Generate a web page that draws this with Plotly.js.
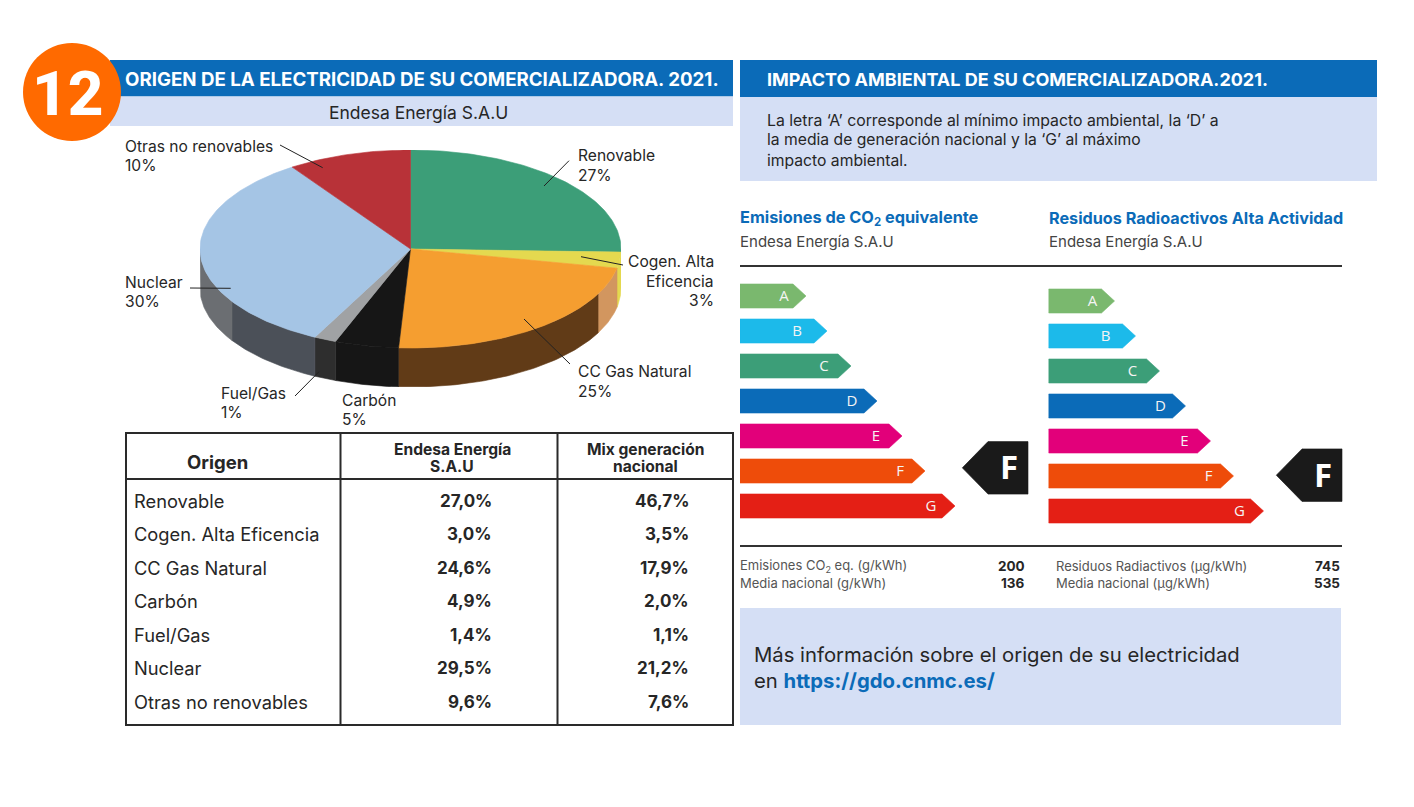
<!DOCTYPE html>
<html><head><meta charset="utf-8">
<script src="https://cdn.plot.ly/plotly-3.0.1.min.js"></script>
<style>html,body{margin:0;padding:0;background:#fff}#c{width:1414px;height:807px}</style>
</head><body><div id="c"></div>
<script>
// ---------- data ----------
const origen = ["Renovable","Cogen. Alta Eficencia","CC Gas Natural","Carbón","Fuel/Gas","Nuclear","Otras no renovables"];
const endesaPct = ["27,0%","3,0%","24,6%","4,9%","1,4%","29,5%","9,6%"];
const mixPct = ["46,7%","3,5%","17,9%","2,0%","1,1%","21,2%","7,6%"];
// slice shares as drawn in the perspective pie, clockwise from 12 o'clock
const sliceShares = [25.5,2.6,22.8,4.9,1.7,33.0,9.5];
const sliceColors = ["#3c9e78","#e4d94f","#f59e30","#161616","#a0a2a4","#a5c5e5","#b83238"];
const sideStops = [90,101.2,117,183.3,200.8,207,238,270];
const sideColors = ["#e4d94f","#d2965f","#613b17","#161616","#2e2e2e","#4b5058","#6b6e72"];
const ratings = ["A","B","C","D","E","F","G"];
const ratingLength = [66,87,111,137,162,185,215];
const ratingLetterAt = [44,57,84,112,136,160,191];
const ratingColors = ["#7ab86e","#1cbaea","#3c9e78","#0b6bb8","#e2007a","#ee4c0a","#e41f15"];

// ---------- page geometry ----------
const W=1414,H=807;
const px=x=>x/W, py=y=>1-y/H;
const FONT="Inter", BLUE="#0b6bb8", LIGHT="#d5dff5", INK="#262626";

// ---------- pie ----------
const depth=39/99, traces=[];
const arc=(a,b,yo)=>{const p=[];const n=Math.max(2,Math.ceil(Math.abs(b-a)));
  for(let i=0;i<=n;i++){const t=(a+(b-a)*i/n)*Math.PI/180;p.push([Math.sin(t),Math.cos(t)+yo]);}return p;};
const poly=(pts,color,xa,ya,name)=>({type:"scatter",mode:"lines",x:pts.map(p=>p[0]),y:pts.map(p=>p[1]),
  fill:"toself",fillcolor:color,line:{color:color,width:0.6},xaxis:xa,yaxis:ya,hoverinfo:"skip",showlegend:false,name:name||""});
sideColors.forEach((c,i)=>{
  const pts=arc(sideStops[i],sideStops[i+1],0).concat(arc(sideStops[i+1],sideStops[i],-depth));
  pts.push(pts[0]);traces.push(poly(pts,c,"x","y","side"));
});
let acc=0;
sliceShares.forEach((s,i)=>{
  const a=acc*3.6,b=(acc+s)*3.6;acc+=s;
  const pts=[[0,0]].concat(arc(a,b,0),[[0,0]]);
  traces.push(poly(pts,sliceColors[i],"x","y",origen[i]));
});

// ---------- rating arrows ----------
const head=13, half=0.343;
function addRatings(xa,ya,dx,dy){
  ratingLength.forEach((L,i)=>{
    const pts=[[0,i-half],[L-head,i-half],[L,i],[L-head,i+half],[0,i+half],[0,i-half]];
    traces.push(poly(pts,ratingColors[i],xa,ya,ratings[i]));
  });
  traces.push({type:"scatter",mode:"text",x:ratingLetterAt,y:ratings.map((r,i)=>i+0.03),text:ratings,
    textposition:"middle center",textfont:{family:"Open Sans",size:15,color:"#f4f4f4"},xaxis:xa,yaxis:ya,hoverinfo:"skip",showlegend:false});
  // black marker pointing at the rating F
  const m=[[222.3,4.91],[248,4.16],[288,4.16],[288,5.66],[248,5.66],[222.3,4.91]].map(p=>[p[0]+dx,p[1]+dy]);
  traces.push(poly(m,"#1a1a1a",xa,ya,"F"));
  traces.push({type:"scatter",mode:"text",x:[269+dx],y:[5.0+dy],text:["F"],textposition:"middle center",
    textfont:{family:"Open Sans",size:33,color:"#ffffff",weight:700},xaxis:xa,yaxis:ya,hoverinfo:"skip",showlegend:false});
}
addRatings("x2","y2",0,0);
addRatings("x3","y3",5.5,0.066);

// ---------- shapes ----------
const rect=(x0,y0,x1,y1,c)=>({type:"rect",xref:"paper",yref:"paper",x0:px(x0),x1:px(x1),y0:py(y0),y1:py(y1),fillcolor:c,line:{width:0},layer:"below"});
const seg=(x0,y0,x1,y1,c,w,layer)=>({type:"line",xref:"paper",yref:"paper",x0:px(x0),x1:px(x1),y0:py(y0),y1:py(y1),line:{color:c,width:w},layer:layer||"above"});
const shapes=[
  rect(110,60,733,96.5,BLUE), rect(110,96.5,733,126,LIGHT),
  rect(740,60,1377,97,BLUE), rect(740,97,1377,181,LIGHT),
  rect(740,608,1341,725,LIGHT),
  {type:"circle",xref:"paper",yref:"paper",x0:px(23),x1:px(121),y0:py(43),y1:py(141),fillcolor:"#ff6a00",line:{width:0},layer:"below"},
  seg(280,145,322.7,167.7,"#222",1), seg(569,160.7,544,186,"#222",1), seg(581,256.7,623,265,"#222",1),
  seg(190,288,230.7,288.3,"#222",1), seg(295,396,319,371.7,"#222",1), seg(524,319,570,364,"#222",1),
  seg(740,266,1342,266,"#333",2), seg(740,546,1342,546,"#333",2),
  {type:"rect",xref:"paper",yref:"paper",x0:px(126),x1:px(733),y0:py(433),y1:py(725),line:{color:"#2a2a2a",width:2},layer:"above"},
  seg(126,479,733,479,"#2a2a2a",2), seg(340.5,433,340.5,725,"#2a2a2a",2), seg(557.5,433,557.5,725,"#2a2a2a",2)
];

// ---------- text ----------
const ann=[];
function T(text,x,y,o){o=o||{};
  ann.push({text:text,xref:"paper",yref:"paper",x:px(x),y:py(y),xanchor:o.a||"left",yanchor:"middle",showarrow:false,
    align:o.a==="right"?"right":(o.a==="center"?"center":"left"),borderpad:0,
    font:{family:o.f||FONT,size:o.s||15.6,color:o.c||INK,weight:o.w||400}});
}
T("12",68,94,{a:"center",s:62,c:"#fff",w:800,f:"Roboto"});
T("ORIGEN DE LA ELECTRICIDAD DE SU COMERCIALIZADORA. 2021.",124,79.5,{s:18.7,c:"#fff",w:700});
T("Endesa Energía S.A.U",418,112,{a:"center",s:17.5});
T("IMPACTO AMBIENTAL DE SU COMERCIALIZADORA.2021.",766,79.5,{s:18,c:"#fff",w:700});
T("La letra ‘A’ corresponde al mínimo impacto ambiental, la ‘D’ a",766,120,{s:15.8});
T("la media de generación nacional y la ‘G’ al máximo",766,140,{s:15.7});
T("impacto ambiental.",766,160,{s:15.7});
// pie labels
const L=(a,b,x,y,dy,o)=>{T(a,x,y,o);T(b,x,y+(dy||19),o);};
L("Otras no renovables","10%",124,146);
L("Renovable","27%",577,156);
L("Nuclear","30%",124,282);
L("Fuel/Gas","1%",220,394);
L("Carbón","5%",341,400);
L("CC Gas Natural","25%",577,372);
T("Cogen. Alta",714.5,261,{a:"right"});T("Eficencia",714.5,281,{a:"right"});T("3%",714.5,300,{a:"right"});
// table
T("Origen",217.5,462,{a:"center",s:18.5,w:700});
T("Endesa Energía",452,449.5,{a:"center",s:15.6,w:700});T("S.A.U",452,466,{a:"center",s:15.6,w:700});
T("Mix generación",645.5,449.5,{a:"center",s:15.6,w:700});T("nacional",645.5,466,{a:"center",s:15.6,w:700});
const rowY=[500.5,533.5,567.5,600.5,634.5,667.5,701.5];
origen.forEach((o,i)=>{
  T(o,133,rowY[i],{s:18.3});
  T(endesaPct[i],493.5,rowY[i],{a:"right",s:17,w:700});
  T(mixPct[i],690,rowY[i],{a:"right",s:17,w:700});
});
// right column
T("Emisiones de CO<sub>2</sub> equivalente",739,218.5,{s:16.3,w:700,c:BLUE});
T("Endesa Energía S.A.U",739,241,{s:15,c:"#444"});
T("Residuos Radioactivos Alta Actividad",1048,218.5,{s:16.2,w:700,c:BLUE});
T("Endesa Energía S.A.U",1048,241,{s:15,c:"#444"});
T("Emisiones CO<sub>2</sub> eq. (g/kWh)",739,566,{s:13,c:"#555"});
T("Media nacional (g/kWh)",739,583,{s:13,c:"#555"});
T("200",1026,566,{a:"right",s:13.5,w:700});T("136",1025.5,583,{a:"right",s:13.5,w:700});
T("Residuos Radiactivos (µg/kWh)",1055,566,{s:13,c:"#555"});
T("Media nacional (µg/kWh)",1055,583,{s:13,c:"#555"});
T("745",1341,566,{a:"right",s:13.5,w:700});T("535",1341,583,{a:"right",s:13.5,w:700});
T("Más información sobre el origen de su electricidad",753,654,{s:20.3});
T("en <b style=\"color:#0b6bb8\">https://gdo.cnmc.es/</b>",753,680.5,{s:20.3});

// ---------- axes ----------
const ax=(domain,range)=>({domain:domain,range:range,visible:false,fixedrange:true,showgrid:false,zeroline:false});
const layout={width:W,height:H,margin:{l:0,r:0,t:0,b:0},paper_bgcolor:"#fff",plot_bgcolor:"rgba(0,0,0,0)",showlegend:false,
  xaxis:ax([px(200),px(621)],[-1,1]),
  yaxis:ax([py(387),py(150)],[-1-depth,1]),
  xaxis2:ax([px(740),px(1040)],[0,300]),
  yaxis2:ax([py(523.5),py(278.5)],[6.5,-0.5]),
  xaxis3:ax([px(1048.5),px(1348.5)],[0,300]),
  yaxis3:ax([py(528.5),py(283.5)],[6.5,-0.5]),
  shapes:shapes,annotations:ann};
Plotly.newPlot("c",traces,layout,{staticPlot:true,displayModeBar:false});
</script></body></html>
